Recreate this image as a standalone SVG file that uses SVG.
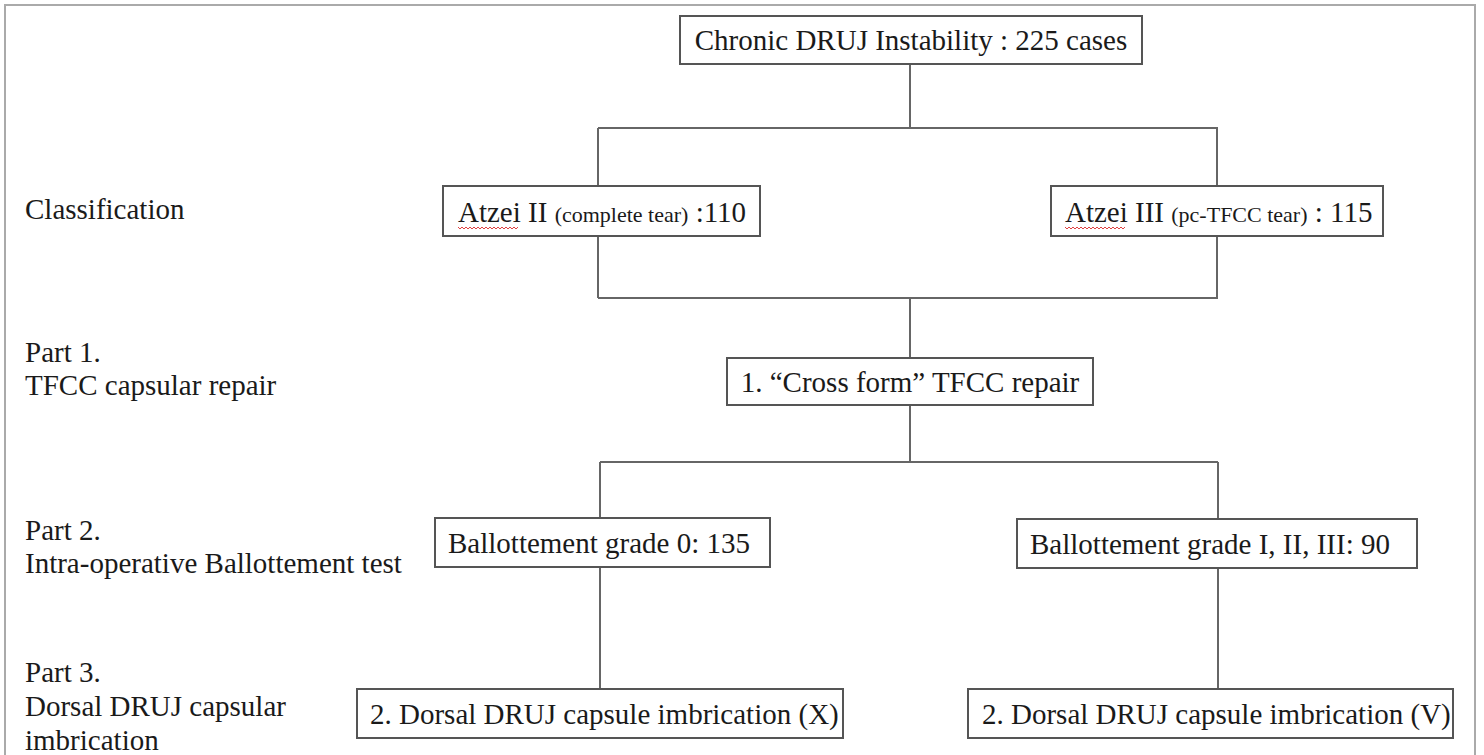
<svg xmlns="http://www.w3.org/2000/svg" width="1484" height="755" viewBox="0 0 1484 755">
<defs>
<style>
.box{fill:#fff;stroke:#555;stroke-width:2}
.t{font-family:'Liberation Serif','DejaVu Serif',serif;font-size:29px;fill:#1a1a1a}
.s{font-size:22px}
.lbl{font-family:'Liberation Serif','DejaVu Serif',serif;font-size:29px;fill:#1a1a1a}
.c{fill:none;stroke:#666;stroke-width:2}
.frame{fill:none;stroke:#aaa;stroke-width:2}
.wavy{fill:none;stroke:#e04040;stroke-width:1}
</style>
</defs>
<rect width="1484" height="755" fill="#fff"/>
<path class="frame" d="M5,755 V5 H1475 V755"/>
<g id="labels">
<text class="lbl" x="25" y="219">Classification</text>
<text class="lbl" x="25" y="362">Part 1.</text>
<text class="lbl" x="25" y="395">TFCC capsular repair</text>
<text class="lbl" x="25" y="540">Part 2.</text>
<text class="lbl" x="25" y="573">Intra-operative Ballottement test</text>
<text class="lbl" x="25" y="682">Part 3.</text>
<text class="lbl" x="25" y="716">Dorsal DRUJ capsular</text>
<text class="lbl" x="25" y="750">imbrication</text>
</g>
<g id="connectors">
<path class="c" d="M910,64 V128 M598,128 H1218 M598,128 V186 M1217,128 V186"/>
<path class="c" d="M598,236 V298 M1217,236 V298 M598,298 H1218 M910,298 V358"/>
<path class="c" d="M910,405 V462 M600,462 H1218 M600,462 V518 M1218,462 V519"/>
<path class="c" d="M600,567 V689 M1218,568 V689"/>
</g>
<g id="n-top">
<rect class="box" x="680" y="16" width="462" height="48"/>
<text class="t" x="911" y="50" text-anchor="middle">Chronic DRUJ Instability : 225 cases</text>
</g>
<g id="n-atzei2">
<rect class="box" x="443" y="186" width="317" height="50"/>
<text class="t" x="458" y="222">Atzei II <tspan class="s">(complete tear)</tspan> :110</text>
<polyline class="wavy" points="458,227 460,229 462,227 464,229 466,227 468,229 470,227 472,229 474,227 476,229 478,227 480,229 482,227 484,229 486,227 488,229 490,227 492,229 494,227 496,229 498,227 500,229 502,227 504,229 506,227 508,229 510,227 512,229 514,227 516,229 518,227"/>
</g>
<g id="n-atzei3">
<rect class="box" x="1051" y="186" width="332" height="50"/>
<text class="t" x="1065" y="222">Atzei III <tspan class="s">(pc-TFCC tear)</tspan> : 115</text>
<polyline class="wavy" points="1065,227 1067,229 1069,227 1071,229 1073,227 1075,229 1077,227 1079,229 1081,227 1083,229 1085,227 1087,229 1089,227 1091,229 1093,227 1095,229 1097,227 1099,229 1101,227 1103,229 1105,227 1107,229 1109,227 1111,229 1113,227 1115,229 1117,227 1119,229 1121,227 1123,229 1125,227"/>
</g>
<g id="n-cross">
<rect class="box" x="727" y="358" width="366" height="47"/>
<text class="t" x="910" y="392" text-anchor="middle">1. “Cross form” TFCC repair</text>
</g>
<g id="n-ball0">
<rect class="box" x="435" y="518" width="335" height="49"/>
<text class="t" x="448" y="553">Ballottement grade 0: 135</text>
</g>
<g id="n-ball123">
<rect class="box" x="1017" y="519" width="400" height="49"/>
<text class="t" x="1030" y="554">Ballottement grade I, II, III: 90</text>
</g>
<g id="n-dorsalX">
<rect class="box" x="357" y="689" width="486" height="49"/>
<text class="t" x="370" y="724">2. Dorsal DRUJ capsule imbrication (X)</text>
</g>
<g id="n-dorsalV">
<rect class="box" x="968" y="689" width="485" height="49"/>
<text class="t" x="982" y="724">2. Dorsal DRUJ capsule imbrication (V)</text>
</g>
</svg>
